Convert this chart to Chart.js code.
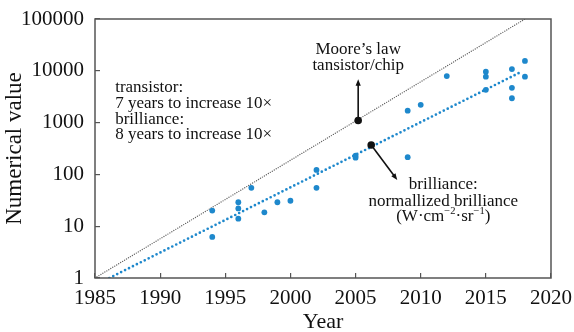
<!DOCTYPE html>
<html>
<head>
<meta charset="utf-8">
<script src="https://cdn.jsdelivr.net/npm/chart.js@4/dist/chart.umd.min.js"></script>
<style>
  html, body { margin: 0; padding: 0; background: #fff; }
  canvas { display: block; }
</style>
</head>
<body>
<canvas id="c" width="574" height="332"></canvas>
<script>
// Measured brilliance values (year, W·cm^-2·sr^-1, normalised)
const pointYears  = [1994, 1994, 1996, 1996, 1996, 1997, 1998, 1999, 2000, 2002, 2002, 2005, 2005, 2009, 2009, 2010, 2012, 2015, 2015, 2015, 2017, 2017, 2017, 2018, 2018];
const pointValues = [20, 6.2, 29, 22, 14, 55, 18.5, 29, 31, 122, 55, 230, 210, 1700, 215, 2200, 7900, 9600, 7700, 4300, 10800, 4700, 2950, 15500, 7700];

// Trend lines: brilliance (10x per ~8 years) and Moore's law (10x per ~7 years)
const brillianceTrendYears  = [1986.1, 2017.7];
const brillianceTrendValues = [1, 9500];
const mooreTrendYears  = [1985, 2018];
const mooreTrendValues = [1, 100000];

// Axis ticks
const xTicks = [1985, 1990, 1995, 2000, 2005, 2010, 2015, 2020];
const yTicks = [1, 10, 100, 1000, 10000, 100000];

// Marked points on the trend lines and where their arrows end
const mooreMark      = { x: 2005.2, y: 1100 };
const mooreArrowEnd  = { x: 2005.2, y: 6900 };
const brillMark      = { x: 2006.2, y: 369 };
const brillArrowEnd  = { x: 2008.2, y: 78 };

const BLUE = 'rgb(30,136,204)';
const FRAME = '#555';
const SERIF = '"Liberation Serif", "DejaVu Serif", serif';

function toXY(xs, ys) { return xs.map((x, i) => ({ x: x, y: ys[i] })); }

function arrow(ctx, x1, y1, x2, y2) {
  const ang = Math.atan2(y2 - y1, x2 - x1);
  const head = 7, spread = 0.38;
  ctx.beginPath();
  ctx.moveTo(x1, y1);
  ctx.lineTo(x2 - Math.cos(ang) * 4, y2 - Math.sin(ang) * 4);
  ctx.stroke();
  ctx.beginPath();
  ctx.moveTo(x2, y2);
  ctx.lineTo(x2 - head * Math.cos(ang - spread), y2 - head * Math.sin(ang - spread));
  ctx.lineTo(x2 - head * Math.cos(ang + spread), y2 - head * Math.sin(ang + spread));
  ctx.closePath();
  ctx.fill();
}

// Draws a run of text pieces, some raised as superscripts, centred on cx
function richText(ctx, parts, cx, cy, size) {
  const widths = parts.map(p => {
    ctx.font = (p.sup ? size * 0.62 : size) + 'px ' + SERIF;
    return ctx.measureText(p.t).width;
  });
  const total = widths.reduce((a, b) => a + b, 0);
  let x = cx - total / 2;
  ctx.textAlign = 'left';
  parts.forEach((p, i) => {
    ctx.font = (p.sup ? size * 0.62 : size) + 'px ' + SERIF;
    ctx.fillText(p.t, x, p.sup ? cy - size * 0.33 : cy);
    x += widths[i];
  });
}

const annotations = {
  id: 'annotations',
  afterDraw(chart) {
    const ctx = chart.ctx;
    const xs = chart.scales.x, ys = chart.scales.y;
    const a = chart.chartArea;
    ctx.save();

    // plot frame
    ctx.strokeStyle = FRAME;
    ctx.lineWidth = 1.5;
    ctx.strokeRect(a.left, a.top, a.right - a.left, a.bottom - a.top);

    ctx.fillStyle = '#111';
    ctx.strokeStyle = '#111';
    ctx.lineWidth = 1.6;

    // Moore's law marker and arrow
    const mx = xs.getPixelForValue(mooreMark.x), my = ys.getPixelForValue(mooreMark.y);
    const mex = xs.getPixelForValue(mooreArrowEnd.x), mey = ys.getPixelForValue(mooreArrowEnd.y);
    arrow(ctx, mx, my, mex, mey);
    ctx.beginPath(); ctx.arc(mx, my, 3.8, 0, Math.PI * 2); ctx.fill();

    // brilliance marker and arrow
    const bx = xs.getPixelForValue(brillMark.x), by = ys.getPixelForValue(brillMark.y);
    const bex = xs.getPixelForValue(brillArrowEnd.x), bey = ys.getPixelForValue(brillArrowEnd.y);
    arrow(ctx, bx, by, bex, bey);
    ctx.beginPath(); ctx.arc(bx, by, 3.8, 0, Math.PI * 2); ctx.fill();

    ctx.textBaseline = 'middle';
    ctx.font = '17px ' + SERIF;

    // Moore's law caption
    ctx.textAlign = 'center';
    ctx.fillText('Moore’s law', mx, mey - 30);
    ctx.fillText('tansistor/chip', mx, mey - 14);

    // brilliance caption
    const cx = bex + 46;
    ctx.fillText('brilliance:', cx, bey + 5);
    ctx.fillText('normallized brilliance', cx, bey + 21.5);
    richText(ctx, [
      { t: '(W·cm' }, { t: '−2', sup: true }, { t: '·sr' }, { t: '−1', sup: true }, { t: ')' }
    ], cx, bey + 37, 17);

    // growth-rate note
    ctx.font = '17px ' + SERIF;
    ctx.textAlign = 'left';
    const lx = xs.getPixelForValue(1986.55);
    const ly = ys.getPixelForValue(4700);
    ['transistor:', '7 years to increase 10×', 'brilliance:', '8 years to increase 10×']
      .forEach((s, i) => ctx.fillText(s, lx, ly + i * 15.7));

    ctx.restore();
  }
};

new Chart(document.getElementById('c'), {
  data: {
    datasets: [
      {
        type: 'scatter',
        data: toXY(pointYears, pointValues),
        backgroundColor: BLUE,
        borderColor: BLUE,
        pointRadius: 2.9,
        pointBorderWidth: 0,
        order: 0
      },
      {
        type: 'line',
        data: toXY(brillianceTrendYears, brillianceTrendValues),
        borderColor: BLUE,
        borderWidth: 2.7,
        borderDash: [0, 4.4],
        borderCapStyle: 'round',
        pointRadius: 0,
        order: 1
      },
      {
        type: 'line',
        data: toXY(mooreTrendYears, mooreTrendValues),
        borderColor: '#666',
        borderWidth: 1.4,
        borderDash: [0, 2.3],
        borderCapStyle: 'round',
        pointRadius: 0,
        order: 2
      }
    ]
  },
  options: {
    responsive: false,
    animation: false,
    layout: { padding: { left: 0, right: 23, top: 19, bottom: 0 } },
    plugins: { legend: { display: false }, tooltip: { enabled: false } },
    scales: {
      x: {
        type: 'linear',
        min: 1985, max: 2020,
        afterBuildTicks: s => { s.ticks = xTicks.map(v => ({ value: v })); },
        afterFit: s => { s.height = 54; s.paddingLeft = 0; s.paddingRight = 0; },
        ticks: {
          callback: v => String(v),
          color: '#111',
          font: { family: SERIF, size: 21 },
          padding: 13,
          maxRotation: 0
        },
        grid: { drawOnChartArea: false, drawTicks: true, tickLength: -5, color: FRAME, lineWidth: 1.2 },
        border: { display: false },
        title: {
          display: true, text: 'Year', color: '#111',
          font: { family: SERIF, size: 22, lineHeight: 0.9 },
          padding: { top: 0, bottom: 0 }
        }
      },
      y: {
        type: 'logarithmic',
        min: 1, max: 100000,
        afterBuildTicks: s => { s.ticks = yTicks.map(v => ({ value: v })); },
        afterFit: s => { s.width = 95; s.paddingTop = 0; s.paddingBottom = 0; },
        ticks: {
          callback: v => String(v),
          color: '#111',
          font: { family: SERIF, size: 21 },
          padding: 16
        },
        grid: { drawOnChartArea: false, drawTicks: true, tickLength: -5, color: FRAME, lineWidth: 1.2 },
        border: { display: false },
        title: {
          display: true, text: 'Numerical value', color: '#111',
          font: { family: SERIF, size: 23, lineHeight: 1.2 },
          padding: { top: 1, bottom: 0 }
        }
      }
    }
  },
  plugins: [annotations]
});
</script>
</body>
</html>
